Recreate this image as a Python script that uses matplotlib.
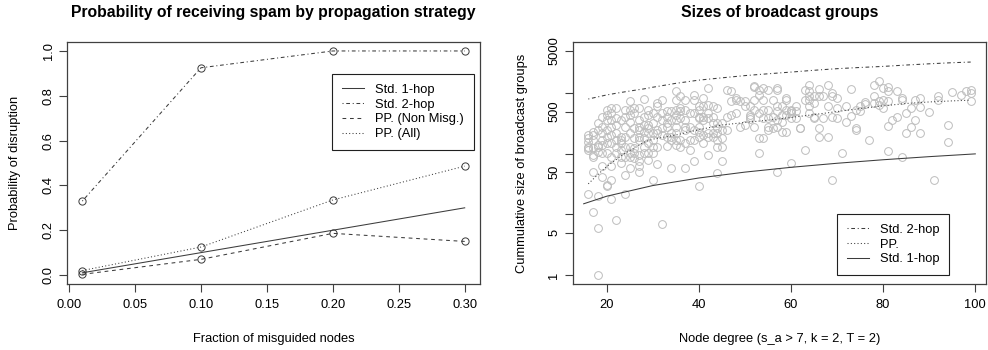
#!/usr/bin/env python3
"""
Two-panel figure: spam probability by propagation strategy and
sizes of broadcast groups vs node degree (R base graphics look).
"""
import numpy as np
import matplotlib
matplotlib.use('Agg')
import matplotlib.pyplot as plt
from matplotlib.lines import Line2D

plt.rcParams['font.family'] = ['Liberation Sans', 'DejaVu Sans']

# ---- left panel data ----
frac = [0.01, 0.10, 0.20, 0.30]
std1 = [0.01, 0.10, 0.20, 0.30]
std2 = [0.33, 0.925, 1.0, 1.0]
pp_nonmisg = [0.003, 0.07, 0.186, 0.15]
pp_all = [0.02, 0.125, 0.335, 0.486]

# ---- right panel data ----
line_deg = [16, 18, 20, 22, 24, 26, 28, 30, 35, 40, 45, 50, 55, 60, 65,
            70, 75, 80, 85, 90, 95, 99]
two_hop = [805, 870, 940, 1000, 1060, 1120, 1180, 1260, 1460, 1650, 1800,
           1960, 2100, 2240, 2400, 2550, 2670, 2780, 2930, 3070, 3200, 3280]
pp_line = [32, 45, 62, 80, 103, 125, 155, 175, 205, 250, 300, 330, 360,
           400, 445, 500, 560, 620, 680, 720, 750, 770]
one_hop_deg = [15, 20, 30, 40, 50, 60, 70, 80, 90, 100]
one_hop = [15, 20, 30, 40, 50, 60, 70, 80, 90, 100]

# observed group sizes, per node degree
scatter_deg = [16, 17, 18, 19, 20, 21, 22, 23, 24, 25, 26, 27, 28, 29, 30,
               31, 32, 33, 34, 35, 36, 37, 38, 39, 40, 41, 42, 43, 44, 45,
               46, 47, 48, 49, 50, 51, 52, 53, 54, 55, 56, 57, 58, 59, 60,
               61, 62, 63, 64, 65, 66, 67, 68, 69, 70, 71, 72, 73, 74, 75,
               76, 77, 78, 79, 80, 81, 82, 83, 84, 85, 86, 87, 88, 90, 91,
               92, 94, 95, 97, 98, 99]
scatter_sizes = [
    [206, 182, 160, 132, 116, 124, 22],
    [234, 206, 170, 124, 96, 90, 50, 11],
    [321, 249, 141, 132, 109, 20, 6, 1],
    [414, 283, 220, 170, 141, 103, 62, 41],
    [534, 441, 365, 249, 193, 150, 103, 31, 29],
    [569, 470, 365, 283, 206, 150, 90, 62, 37, 18],
    [569, 389, 302, 220, 170, 132, 103, 8],
    [365, 193, 170, 150, 116, 90, 72],
    [534, 414, 283, 193, 132, 90, 45, 22],
    [733, 534, 441, 342, 220, 132, 103, 90, 58],
    [569, 470, 266, 182, 124, 103, 85],
    [569, 365, 283, 249, 193, 170, 96, 75, 62, 51],
    [805, 414, 302, 234, 182, 132, 103],
    [534, 441, 302, 266, 220, 150, 103, 80],
    [470, 321, 220, 170, 132, 103, 37],
    [688, 606, 414, 249, 220, 132, 68],
    [781, 470, 365, 266, 206, 7],
    [501, 414, 321, 283, 193, 137],
    [501, 365, 220, 193, 170, 58],
    [1072, 781, 534, 441, 365, 283, 220, 170, 141],
    [887, 569, 501, 389, 170, 132],
    [781, 534, 365, 283, 249, 150, 58],
    [470, 283, 170, 116],
    [944, 781, 470, 249, 170, 75],
    [606, 534, 414, 389, 283, 234, 193, 30],
    [832, 606, 414, 365, 206, 150],
    [1240, 646, 470, 389, 220, 193, 96],
    [606, 414, 321, 220, 193],
    [569, 321, 266, 220, 170, 132, 48],
    [321, 249, 182, 132, 75],
    [1142, 414, 249],
    [1100, 733, 441],
    [832, 781, 470],
    [733, 283],
    [733, 606, 302],
    [606, 441, 414, 374],
    [1335, 1265, 781, 534, 283],
    [1142, 944, 470, 182, 103],
    [1217, 781, 534, 389, 182],
    [1142, 534, 389, 283, 249],
    [781, 414, 266],
    [1217, 1142, 606, 501, 365, 283, 50],
    [606, 441, 342, 234],
    [832, 781, 534, 441, 234],
    [534, 501, 470, 389, 72],
    [606, 501, 389],
    [272, 266],
    [1142, 781, 116],
    [1381, 1072, 887, 781, 606, 470],
    [887, 688, 414, 389],
    [1170, 887, 266, 193],
    [887, 389],
    [1381, 606, 193],
    [1006, 887, 414, 37],
    [832, 569, 389],
    [104],
    [606, 334],
    [1170, 424],
    [534, 266, 249],
    [606, 517],
    [705, 670],
    [170],
    [1381, 887, 688],
    [1570, 733, 646],
    [1217, 781, 569],
    [1265, 1072, 733, 290, 112],
    [365],
    [1105, 414],
    [832, 781, 88],
    [470, 220],
    [569, 275],
    [781, 365],
    [832, 587, 220],
    [485],
    [37],
    [915, 781],
    [295, 160],
    [1040],
    [944],
    [1072],
    [1142, 1030, 733],
]

pts_x = [d for d, row in zip(scatter_deg, scatter_sizes) for _ in row]
pts_y = [v for row in scatter_sizes for v in row]

# R-like line types (lty 4, 2, 3)
LTY_DOTDASH = (0, (1.0, 2.6, 3.6, 2.6))
LTY_DASHED = (0, (3.6, 3.6))
LTY_DOTTED = (0, (1.0, 2.2))
LINE_COL = '#3c3c3c'
BOX_COL = '#404040'
LW = 0.75
FS = 9.3


def style_axes(ax):
    for sp in ax.spines.values():
        sp.set_color(BOX_COL)
        sp.set_linewidth(0.9)
    ax.tick_params(axis='both', direction='out', length=5.5, width=0.8,
                   color=BOX_COL, labelsize=FS)
    ax.tick_params(axis='x', pad=5.5)
    ax.tick_params(axis='y', pad=3.5)
    for lab in ax.get_yticklabels():
        lab.set_rotation(90)
        lab.set_va('center')


def r_legend(ax, styles, labels, x0, y0):
    handles = [Line2D([], [], color=LINE_COL, lw=LW, linestyle=s) for s in styles]
    leg = ax.legend(handles, labels, loc='upper left',
                    bbox_to_anchor=(x0 / W, 1 - y0 / H),
                    bbox_transform=fig.transFigure, fontsize=FS, frameon=True,
                    fancybox=False, framealpha=1, edgecolor='#202020',
                    borderpad=0.75, labelspacing=0.22, handlelength=1.75,
                    handletextpad=0.85, borderaxespad=0)
    leg.get_frame().set_linewidth(0.8)
    return leg


fig = plt.figure(figsize=(9.88, 3.5), dpi=100)
W, H = 988.0, 350.0
ax1 = fig.add_axes([67 / W, 1 - 284 / H, 413 / W, 242 / H])
ax2 = fig.add_axes([573 / W, 1 - 284 / H, 413 / W, 242 / H])

# ---- left panel ----
mk = dict(marker='o', markersize=5.2, markerfacecolor='none',
          markeredgecolor='#3a3a3a', markeredgewidth=0.7)
ax1.plot(frac, std1, color=LINE_COL, lw=LW)
ax1.plot(frac, std2, color=LINE_COL, lw=LW, linestyle=LTY_DOTDASH, **mk)
ax1.plot(frac, pp_nonmisg, color=LINE_COL, lw=LW, linestyle=LTY_DASHED, **mk)
ax1.plot(frac, pp_all, color=LINE_COL, lw=LW, linestyle=LTY_DOTTED, **mk)
ax1.set_xlim(-0.0016, 0.3116)
ax1.set_ylim(-0.04, 1.04)
ax1.set_xticks([0.0, 0.05, 0.10, 0.15, 0.20, 0.25, 0.30])
ax1.set_xticklabels(['0.00', '0.05', '0.10', '0.15', '0.20', '0.25', '0.30'])
ax1.set_yticks([0.0, 0.2, 0.4, 0.6, 0.8, 1.0])
ax1.set_yticklabels(['0.0', '0.2', '0.4', '0.6', '0.8', '1.0'])
style_axes(ax1)
ax1.set_xlabel('Fraction of misguided nodes', fontsize=FS)
ax1.set_ylabel('Probability of disruption', fontsize=FS)
ax1.xaxis.set_label_coords(0.5, -55 / 242)
ax1.xaxis.label.set_va('center')
ax1.yaxis.set_label_coords(-52 / 413, 0.5)
ax1.yaxis.label.set_va('center')
ax1.text(0.5, 1 + 29.5 / 242, 'Probability of receiving spam by propagation strategy',
         transform=ax1.transAxes, ha='center', va='center',
         fontsize=11.3, fontweight='bold')
r_legend(ax1, ['-', LTY_DOTDASH, LTY_DASHED, LTY_DOTTED],
         ['Std. 1-hop', 'Std. 2-hop', 'PP. (Non Misg.)', 'PP. (All)'], 332, 74)

# ---- right panel ----
ax2.plot(pts_x, pts_y, linestyle='none', marker='o', markersize=5.6,
         markerfacecolor='none', markeredgecolor='#bdbdbd', markeredgewidth=0.7)
ax2.plot(line_deg, two_hop, color=LINE_COL, lw=LW, linestyle=LTY_DOTDASH)
ax2.plot(line_deg, pp_line, color=LINE_COL, lw=LW, linestyle=LTY_DOTTED)
ax2.plot(one_hop_deg, one_hop, color=LINE_COL, lw=LW)
ax2.set_yscale('log')
ax2.set_xlim(12.68, 102.32)
ax2.set_ylim(0.711, 7030)
ax2.set_xticks([20, 40, 60, 80, 100])
ax2.set_yticks([1, 5, 10, 50, 100, 500, 1000, 5000])
ax2.set_yticklabels(['1', '5', '', '50', '', '500', '', '5000'])
ax2.yaxis.set_minor_locator(matplotlib.ticker.NullLocator())
style_axes(ax2)
ax2.set_xlabel('Node degree (s_a > 7, k = 2, T = 2)', fontsize=FS)
ax2.set_ylabel('Cummulative size of broadcast groups', fontsize=FS)
ax2.xaxis.set_label_coords(0.5, -55 / 242)
ax2.xaxis.label.set_va('center')
ax2.yaxis.set_label_coords(-51 / 413, 0.5)
ax2.yaxis.label.set_va('center')
ax2.text(0.5, 1 + 29.5 / 242, 'Sizes of broadcast groups',
         transform=ax2.transAxes, ha='center', va='center',
         fontsize=11.3, fontweight='bold')
r_legend(ax2, [LTY_DOTDASH, LTY_DOTTED, '-'],
         ['Std. 2-hop', 'PP.', 'Std. 1-hop'], 837, 214)

fig.savefig('out.png', dpi=100)
